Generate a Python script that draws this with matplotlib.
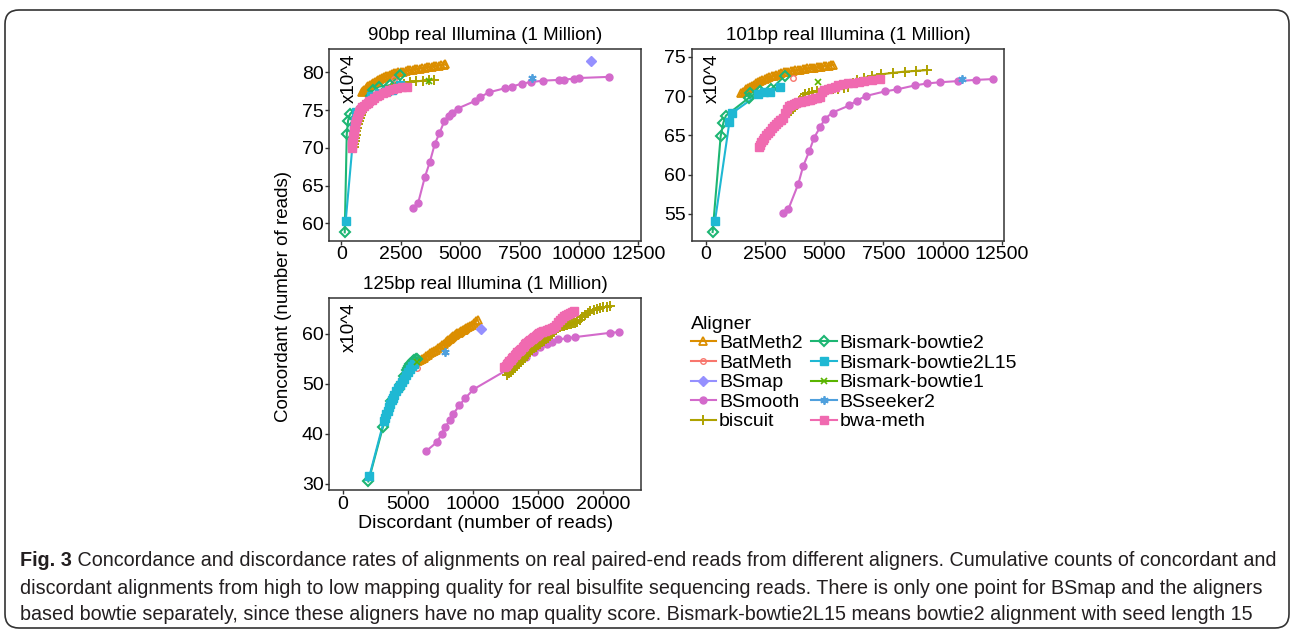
import matplotlib
matplotlib.use("Agg")
import matplotlib.pyplot as plt
from matplotlib.lines import Line2D
from matplotlib.patches import FancyBboxPatch
from matplotlib.transforms import IdentityTransform
from matplotlib import font_manager

W, H = 1292, 632

aligners = ["BatMeth2", "BatMeth", "BSmap", "BSmooth", "biscuit",
            "Bismark-bowtie2", "Bismark-bowtie2L15", "Bismark-bowtie1", "BSseeker2", "bwa-meth"]

# ---- 90bp panel ----
bp90_batmeth2_x = [850, 900, 960, 1020, 1080, 1140, 1200, 1270, 1340, 1410, 1480, 1550, 1630, 1710, 1790,
                   1870, 1950, 2040, 2130, 2220, 2310, 2400, 2500, 2600, 2700, 2800, 2900, 3000, 3100, 3200,
                   3300, 3400, 3500, 3600, 3700, 3800, 3900, 4000, 4100, 4200, 4300, 4380]
bp90_batmeth2_y = [77.4, 77.55, 77.7, 77.85, 78.0, 78.15, 78.3, 78.45, 78.6, 78.7, 78.85, 79.0, 79.1, 79.25, 79.35,
                   79.45, 79.55, 79.65, 79.75, 79.85, 79.9, 80.0, 80.05, 80.1, 80.2, 80.25, 80.3, 80.35, 80.4, 80.45,
                   80.5, 80.55, 80.6, 80.65, 80.7, 80.75, 80.8, 80.85, 80.9, 80.95, 81.0, 81.05]
bp90_batmeth_x = [2220]
bp90_batmeth_y = [79.1]
bp90_bsmap_x = [10510]
bp90_bsmap_y = [81.55]
bp90_bsmooth_x = [3020, 3230, 3510, 3720, 3930, 4120, 4330, 4520, 4640, 4890, 5620, 5830, 6210, 6890, 7170,
                  7590, 7970, 8500, 9180, 9390, 9790, 10020, 11280]
bp90_bsmooth_y = [62.0, 62.7, 66.1, 68.1, 70.5, 71.9, 73.5, 74.2, 74.6, 75.2, 76.2, 76.7, 77.35, 77.9, 78.1,
                  78.5, 78.7, 78.9, 79.0, 79.05, 79.15, 79.25, 79.4]
bp90_biscuit_x = [520, 540, 560, 580, 600, 630, 660, 700, 740, 780, 820, 870, 920, 980, 1050, 1120, 1200,
                  1280, 1360, 1450, 1550, 1650, 1760, 1880, 2000, 2150, 2300, 2450, 2650, 2900, 3150, 3450,
                  3700, 3900]
bp90_biscuit_y = [70.1, 70.5, 70.9, 71.3, 71.7, 72.2, 72.6, 73.1, 73.6, 74.0, 74.4, 74.8, 75.1, 75.4, 75.7,
                  75.9, 76.1, 76.3, 76.5, 76.7, 76.8, 77.0, 77.2, 77.4, 77.6, 77.9, 78.1, 78.3, 78.5, 78.7,
                  78.8, 78.9, 79.0, 79.05]
bp90_bt2_x = [140, 225, 280, 365, 1250, 1310, 1575, 2040, 2460]
bp90_bt2_y = [58.8, 71.8, 73.6, 74.5, 76.9, 77.6, 78.1, 78.3, 79.7]
bp90_bt2l15_x = [180, 530, 560, 600, 1250, 1600, 1900, 2150, 2450]
bp90_bt2l15_y = [60.3, 72.6, 73.6, 74.7, 76.8, 77.2, 77.5, 77.7, 78.3]
bp90_bt1_x = [3690]
bp90_bt1_y = [78.8]
bp90_bsseeker2_x = [8040]
bp90_bsseeker2_y = [79.2]
bp90_bwameth_x = [430, 445, 460, 475, 490, 510, 530, 555, 580, 610, 640, 680, 720, 770, 820, 880, 950, 1020,
                  1100, 1180, 1270, 1370, 1480, 1600, 1730, 1870, 2020, 2180, 2350, 2550, 2750]
bp90_bwameth_y = [70.0, 70.4, 70.8, 71.2, 71.6, 72.0, 72.4, 72.8, 73.2, 73.6, 74.0, 74.4, 74.7, 75.0, 75.2,
                  75.4, 75.6, 75.8, 76.0, 76.2, 76.4, 76.6, 76.8, 77.0, 77.2, 77.4, 77.6, 77.75, 77.9, 78.0, 78.0]

# ---- 101bp panel ----
bp101_batmeth2_x = [1500, 1560, 1630, 1700, 1780, 1860, 1940, 2020, 2110, 2200, 2290, 2380, 2480, 2580, 2680,
                    2780, 2880, 2980, 3080, 3180, 3280, 3380, 3480, 3580, 3680, 3780, 3880, 3980, 4080, 4180,
                    4280, 4380, 4480, 4580, 4680, 4780, 4880, 4980, 5080, 5180, 5280, 5380]
bp101_batmeth2_y = [70.4, 70.55, 70.7, 70.85, 71.0, 71.15, 71.3, 71.45, 71.6, 71.75, 71.9, 72.0, 72.15, 72.3,
                    72.4, 72.5, 72.6, 72.7, 72.8, 72.9, 73.0, 73.05, 73.1, 73.15, 73.2, 73.25, 73.3, 73.35,
                    73.4, 73.45, 73.5, 73.55, 73.6, 73.6, 73.65, 73.7, 73.75, 73.8, 73.8, 73.85, 73.9, 73.95]
bp101_batmeth_x = [3660]
bp101_batmeth_y = [72.3]
bp101_bsmooth_x = [3240, 3480, 3900, 4110, 4370, 4570, 4820, 5030, 5350, 6060, 6370, 6760, 7580, 8090, 8830,
                   9360, 9890, 10670, 11410, 12120]
bp101_bsmooth_y = [55.1, 55.6, 58.8, 61.1, 63.0, 64.7, 66.0, 67.1, 67.9, 68.8, 69.4, 70.0, 70.6, 70.85, 71.35,
                   71.6, 71.75, 71.9, 72.05, 72.15]
bp101_biscuit_x = [2300, 2360, 2420, 2490, 2560, 2640, 2720, 2800, 2890, 2980, 3080, 3180, 3280, 3380, 3480,
                   3580, 3680, 3780, 3880, 3980, 4080, 4200, 4350, 4500, 4700, 4900, 5100, 5350, 5600, 5850,
                   6000, 6200, 6400, 6700, 7000, 7400, 7900, 8400, 8900, 9350]
bp101_biscuit_y = [63.9, 64.1, 64.4, 64.7, 65.0, 65.3, 65.6, 65.9, 66.2, 66.5, 66.8, 67.1, 67.4, 67.7, 67.9,
                   68.1, 68.4, 68.7, 69.1, 69.5, 69.9, 70.2, 70.4, 70.55, 70.65, 70.7, 70.75, 70.85, 70.95,
                   71.05, 71.15, 71.6, 72.0, 72.3, 72.55, 72.75, 72.95, 73.1, 73.2, 73.3]
bp101_bt2_x = [280, 620, 735, 840, 1830, 1860, 2280, 2750, 3340]
bp101_bt2_y = [52.7, 64.9, 66.6, 67.5, 69.8, 70.35, 70.7, 70.85, 72.6]
bp101_bt2l15_x = [380, 990, 1090, 2210, 2450, 2700, 3130]
bp101_bt2l15_y = [54.1, 66.7, 67.8, 70.2, 70.45, 70.55, 71.2]
bp101_bt1_x = [4720]
bp101_bt1_y = [71.75]
bp101_bsseeker2_x = [10810]
bp101_bsseeker2_y = [72.15]
bp101_bwameth_x = [2220, 2270, 2330, 2400, 2470, 2550, 2630, 2710, 2790, 2870, 2950, 3030, 3110, 3190, 3270,
                   3350, 3430, 3510, 3600, 3700, 3800, 3900, 4000, 4100, 4200, 4300, 4400, 4500, 4600, 4700,
                   4800, 4900, 5000, 5150, 5300, 5450, 5600, 5800, 6000, 6200, 6450, 6700, 7000, 7350]
bp101_bwameth_y = [63.5, 63.8, 64.1, 64.4, 64.7, 65.0, 65.3, 65.6, 65.9, 66.2, 66.5, 66.7, 66.9, 67.0, 67.2,
                   67.8, 68.3, 68.7, 68.9, 69.0, 69.1, 69.2, 69.3, 69.35, 69.4, 69.45, 69.5, 69.6, 69.7, 69.8,
                   69.9, 70.5, 70.8, 70.9, 71.0, 71.2, 71.4, 71.5, 71.6, 71.7, 71.8, 71.95, 72.05, 72.15]

# ---- 125bp panel ----
bp125_batmeth2_x = [5800, 5950, 6100, 6250, 6400, 6550, 6700, 6850, 7000, 7150, 7300, 7450, 7600, 7750, 7900,
                    8000, 8100, 8200, 8300, 8400, 8500, 8600, 8700, 8800, 8900, 9000, 9100, 9200, 9300, 9400,
                    9500, 9600, 9750, 9900, 10050, 10200, 10350]
bp125_batmeth2_y = [54.5, 54.7, 54.9, 55.2, 55.5, 55.8, 56.1, 56.3, 56.5, 56.8, 57.1, 57.4, 57.7, 58.0, 58.3,
                    58.6, 58.8, 59.0, 59.2, 59.4, 59.6, 59.8, 59.95, 60.1, 60.25, 60.4, 60.55, 60.7, 60.85,
                    61.0, 61.15, 61.3, 61.5, 61.8, 62.1, 62.5, 62.8]
bp125_batmeth_x = [5680]
bp125_batmeth_y = [53.1]
bp125_bsmap_x = [10620]
bp125_bsmap_y = [61.0]
bp125_bsmooth_x = [6370, 7210, 7600, 7850, 8240, 8490, 8950, 9390, 10030, 13200, 14100, 14650, 15150, 15650,
                   16050, 16550, 17200, 17830, 20520, 21200]
bp125_bsmooth_y = [36.5, 38.3, 40.0, 41.3, 42.8, 44.0, 45.7, 47.1, 48.9, 53.7, 55.3, 56.4, 57.3, 57.9, 58.4,
                   58.9, 59.1, 59.35, 60.2, 60.35]
bp125_biscuit_x = [12600, 12750, 12900, 13050, 13200, 13350, 13500, 13650, 13800, 13950, 14100, 14250, 14400,
                   14550, 14700, 14850, 15000, 15150, 15300, 15450, 15600, 15750, 15900, 16050, 16200, 16350,
                   16500, 16650, 16800, 16950, 17100, 17250, 17400, 17550, 17700, 17850, 18000, 18200, 18400,
                   18600, 18800, 19000, 19250, 19500, 19750, 20000, 20250, 20550]
bp125_biscuit_y = [51.8, 52.1, 52.4, 52.7, 53.1, 53.5, 53.9, 54.3, 54.7, 55.1, 55.5, 55.9, 56.3, 56.7, 57.1,
                   57.4, 57.7, 58.0, 58.3, 58.6, 58.9, 59.2, 59.6, 60.0, 60.4, 60.8, 61.1, 61.3, 61.5, 61.6,
                   61.7, 61.8, 61.9, 62.0, 62.1, 62.2, 62.3, 62.7, 63.3, 63.8, 64.2, 64.5, 64.8, 65.0, 65.2,
                   65.3, 65.4, 65.5]
bp125_bt2_x = [1970, 3080, 3700, 4300, 4500, 4700, 4900, 5000, 5100, 5200, 5300, 5400, 5500, 5600, 5700]
bp125_bt2_y = [30.5, 41.3, 46.5, 49.0, 50.0, 51.5, 52.8, 53.2, 53.6, 54.0, 54.2, 54.5, 54.7, 54.9, 55.0]
bp125_bt2l15_x = [2050, 3150, 3250, 3350, 3450, 3550, 3650, 3750, 3850, 3950, 4100, 4250, 4400, 4550, 4700,
                  4850, 5000, 5150, 5300, 5450]
bp125_bt2l15_y = [31.6, 42.5, 43.2, 43.9, 44.6, 45.3, 46.0, 46.7, 47.2, 47.7, 48.5, 49.2, 49.8, 50.4, 51.0,
                  51.7, 52.4, 53.0, 53.5, 54.0]
bp125_bt1_x = [5700]
bp125_bt1_y = [54.3]
bp125_bsseeker2_x = [7850]
bp125_bsseeker2_y = [56.4]
bp125_bwameth_x = [12400, 12500, 12600, 12700, 12800, 12900, 13000, 13100, 13200, 13300, 13400, 13500, 13600,
                   13700, 13800, 13900, 14000, 14100, 14200, 14300, 14400, 14500, 14600, 14700, 14800, 14900,
                   15000, 15100, 15200, 15300, 15400, 15500, 15650, 15800, 15950, 16100, 16250, 16400, 16550,
                   16700, 16850, 17000, 17150, 17300, 17450, 17600, 17750]
bp125_bwameth_y = [53.3, 53.6, 53.9, 54.2, 54.5, 54.8, 55.1, 55.4, 55.7, 56.0, 56.3, 56.5, 56.7, 57.0, 57.3,
                   57.6, 57.9, 58.1, 58.3, 58.5, 58.7, 58.9, 59.1, 59.3, 59.5, 59.7, 59.9, 60.1, 60.3, 60.4,
                   60.5, 60.6, 60.75, 60.9, 61.0, 61.2, 61.4, 61.8, 62.3, 62.8, 63.2, 63.5, 63.8, 64.0, 64.2,
                   64.35, 64.5]

titles = ["90bp real Illumina (1 Million)", "101bp real Illumina (1 Million)", "125bp real Illumina (1 Million)"]
caption_bold = "Fig. 3"
caption_lines = [
    " Concordance and discordance rates of alignments on real paired-end reads from different aligners. "
    "Cumulative counts of concordant and",
    "discordant alignments from high to low mapping quality for real bisulfite sequencing reads. "
    "There is only one point for BSmap and the aligners",
    "based bowtie separately, since these aligners have no map quality score. "
    "Bismark-bowtie2L15 means bowtie2 alignment with seed length 15",
]

panels = [
    {"BatMeth2": (bp90_batmeth2_x, bp90_batmeth2_y), "BatMeth": (bp90_batmeth_x, bp90_batmeth_y),
     "BSmap": (bp90_bsmap_x, bp90_bsmap_y), "BSmooth": (bp90_bsmooth_x, bp90_bsmooth_y),
     "biscuit": (bp90_biscuit_x, bp90_biscuit_y), "Bismark-bowtie2": (bp90_bt2_x, bp90_bt2_y),
     "Bismark-bowtie2L15": (bp90_bt2l15_x, bp90_bt2l15_y), "Bismark-bowtie1": (bp90_bt1_x, bp90_bt1_y),
     "BSseeker2": (bp90_bsseeker2_x, bp90_bsseeker2_y), "bwa-meth": (bp90_bwameth_x, bp90_bwameth_y)},
    {"BatMeth2": (bp101_batmeth2_x, bp101_batmeth2_y), "BatMeth": (bp101_batmeth_x, bp101_batmeth_y),
     "BSmooth": (bp101_bsmooth_x, bp101_bsmooth_y), "biscuit": (bp101_biscuit_x, bp101_biscuit_y),
     "Bismark-bowtie2": (bp101_bt2_x, bp101_bt2_y), "Bismark-bowtie2L15": (bp101_bt2l15_x, bp101_bt2l15_y),
     "Bismark-bowtie1": (bp101_bt1_x, bp101_bt1_y), "BSseeker2": (bp101_bsseeker2_x, bp101_bsseeker2_y),
     "bwa-meth": (bp101_bwameth_x, bp101_bwameth_y)},
    {"BatMeth2": (bp125_batmeth2_x, bp125_batmeth2_y), "BatMeth": (bp125_batmeth_x, bp125_batmeth_y),
     "BSmap": (bp125_bsmap_x, bp125_bsmap_y), "BSmooth": (bp125_bsmooth_x, bp125_bsmooth_y),
     "biscuit": (bp125_biscuit_x, bp125_biscuit_y), "Bismark-bowtie2": (bp125_bt2_x, bp125_bt2_y),
     "Bismark-bowtie2L15": (bp125_bt2l15_x, bp125_bt2l15_y), "Bismark-bowtie1": (bp125_bt1_x, bp125_bt1_y),
     "BSseeker2": (bp125_bsseeker2_x, bp125_bsseeker2_y), "bwa-meth": (bp125_bwameth_x, bp125_bwameth_y)},
]

colors = {"BatMeth2": "#DB8E00", "BatMeth": "#F8766D", "BSmap": "#9590FF", "BSmooth": "#D36ACB",
          "biscuit": "#AEA200", "Bismark-bowtie2": "#1DB673", "Bismark-bowtie2L15": "#1FB8D3",
          "Bismark-bowtie1": "#5AB400", "BSseeker2": "#4FA0DD", "bwa-meth": "#F06AB0"}
# marker, size, filled, edge width
styles = {"BatMeth2": ("^", 5.5, False, 1.3), "BatMeth": ("o", 4, False, 1.0), "BSmap": ("D", 5, True, 1.0),
          "BSmooth": ("o", 5, True, 1.0), "biscuit": ("+", 6.5, False, 1.4),
          "Bismark-bowtie2": ("D", 5, False, 1.5), "Bismark-bowtie2L15": ("s", 5.5, True, 1.0),
          "Bismark-bowtie1": ("x", 4.5, False, 1.2), "BSseeker2": ((6, 2, 0), 6, False, 1.3),
          "bwa-meth": ("s", 5.5, True, 1.0)}

limits = [((-523, 12600), (57.7, 83.05)), ((-605, 12600), (51.6, 75.94)), ((-1028, 22870), (28.8, 67.1))]
xticks = [[0, 2500, 5000, 7500, 10000, 12500], [0, 2500, 5000, 7500, 10000, 12500],
          [0, 5000, 10000, 15000, 20000]]
yticks = [[60, 65, 70, 75, 80], [55, 60, 65, 70, 75], [30, 40, 50, 60]]
boxes = [(329, 49.3, 640.7, 240.7), (691.7, 49.3, 1004, 240.7), (329.3, 298.3, 640.7, 490)]

plt.rcParams["font.family"] = ["Liberation Sans", "DejaVu Sans"]


def pix_box(l, t, r, b):
    return [l / W, 1 - b / H, (r - l) / W, (b - t) / H]


def marker_kw(name):
    m, ms, filled, mew = styles[name]
    c = colors[name]
    return dict(marker=m, markersize=ms, markeredgewidth=mew, markeredgecolor=c,
                markerfacecolor=c if filled else "none")


fig = plt.figure(figsize=(W / 100, H / 100), dpi=100)

for i, data in enumerate(panels):
    ax = fig.add_axes(pix_box(*boxes[i]))
    for name in aligners:
        if name in data:
            x, y = data[name]
            ax.plot(x, y, "-", color=colors[name], lw=1.5, zorder=2)
    for name in aligners:
        if name in data:
            x, y = data[name]
            ax.plot(x, y, linestyle="none", zorder=3, **marker_kw(name))
    ax.set_xlim(*limits[i][0])
    ax.set_ylim(*limits[i][1])
    ax.set_xticks(xticks[i])
    ax.set_yticks(yticks[i])
    ax.tick_params(length=3, width=1, color="#333333", labelsize=14, labelcolor="black", pad=1)
    for s in ax.spines.values():
        s.set_color("#333333")
        s.set_linewidth(1.1)
    ax.set_title(titles[i], fontsize=13.5, pad=7)
    ax.text(0.065, 0.975, "x10^4", rotation=90, ha="center", va="top", fontsize=13.5,
            transform=ax.transAxes)

fig.text(283 / W, 1 - 296 / H, "Concordant (number of reads)", rotation=90, ha="center", va="center",
         fontsize=13.5)
fig.text(486 / W, 1 - 523 / H, "Discordant (number of reads)", ha="center", va="center", fontsize=14)

handles = [Line2D([], [], color=colors[n], lw=1.5, **marker_kw(n)) for n in aligners]
fig.legend(handles, aligners, ncol=2, loc="upper left", bbox_to_anchor=(681 / W, 1 - 306 / H),
           frameon=False, title="Aligner", title_fontsize=14, fontsize=14, handlelength=1.3,
           handletextpad=0.15, columnspacing=0.45, labelspacing=0.1, borderpad=0, alignment="left")

# outer rounded frame
frame = FancyBboxPatch((5, 4), 1284, 618, boxstyle="round,pad=0,rounding_size=14",
                       transform=IdentityTransform(), fill=False, ec="#333333", lw=1.2)
fig.patches.append(frame)

# caption, sized to fill the line width
names = {f.name for f in font_manager.fontManager.ttflist}
cap_family = "Liberation Sans Narrow" if "Liberation Sans Narrow" in names else "Liberation Sans"
renderer = fig.canvas.get_renderer()
probe = fig.text(0, 0, caption_lines[1], fontsize=12, family=cap_family)
cap_size = 12 * 1242 / probe.get_window_extent(renderer).width
probe.remove()

cap_y = [560, 588, 615]
bold = fig.text(20 / W, 1 - cap_y[0] / H, caption_bold, fontsize=cap_size, family=cap_family,
                weight="bold", va="center", color="#231F20")
bw = bold.get_window_extent(renderer).width
fig.text((20 + bw) / W, 1 - cap_y[0] / H, caption_lines[0], fontsize=cap_size, family=cap_family,
         va="center", color="#231F20")
for k in (1, 2):
    fig.text(20 / W, 1 - cap_y[k] / H, caption_lines[k], fontsize=cap_size, family=cap_family,
             va="center", color="#231F20")

fig.savefig("out.png", dpi=100)
